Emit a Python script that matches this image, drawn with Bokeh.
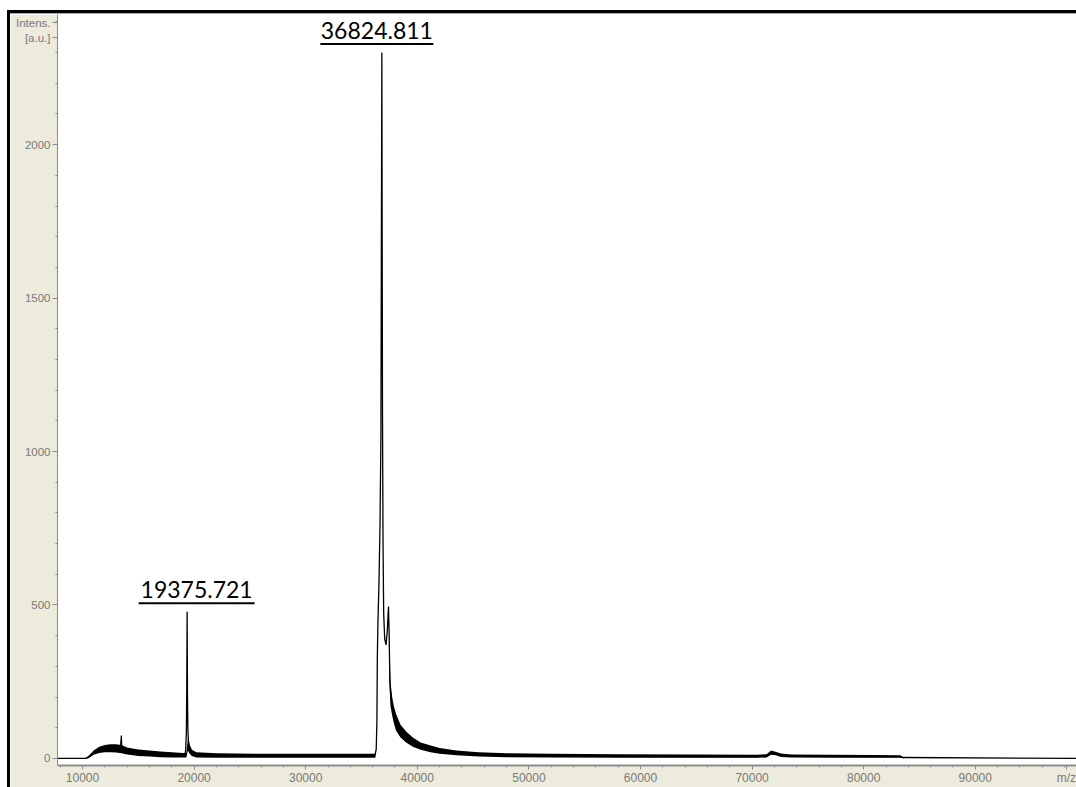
from bokeh.plotting import figure
from bokeh.models import Range1d, FixedTicker, Label, Spacer
from bokeh.layouts import row, column
from bokeh.embed import file_html
from bokeh.resources import INLINE

# MALDI-TOF spectrum: m/z against intensity (a.u.)
trace_mz = [7760, 10250, 10500, 10800, 11200, 11700, 12300, 12900, 13400, 13480,
            13520, 13600, 14000, 15000, 16000, 17000, 18000, 18800, 19150, 19250,
            19310, 19340, 19375.721, 19405, 19440, 19490, 19560, 19700, 19900, 20300,
            22000, 25000, 28000, 31000, 34000, 36200, 36320, 36380, 36420, 36470,
            36560, 36660, 36740, 36824.811, 36880, 36930, 36990, 37080, 37200, 37320,
            37419, 37480, 37540, 37620, 37750, 37900, 38100, 38500, 39000, 39600,
            40300, 41200, 42000, 43500, 45500, 48000, 52000, 58000, 65000, 70500,
            71300, 71700, 72100, 72600, 73500, 77000, 81000, 83300, 83600, 99070]
trace_int = [0, 0, 3, 12, 27, 32, 34, 33, 31, 75,
             30, 28, 24, 18, 15, 12, 10, 9, 10, 28,
             90, 215, 478, 215, 100, 58, 42, 28, 18, 12,
             9, 8, 8, 7, 7, 8, 30, 120, 330, 440,
             560, 760, 1050, 2300, 1150, 700, 470, 390, 370, 420,
             495, 400, 260, 200, 165, 140, 115, 88, 70, 50,
             38, 29, 23, 17, 12, 9, 8, 7, 6, 6,
             8, 20, 16, 10, 8, 7, 6, 6, 3, 0]

# baseline noise envelope below the main peak
noise1_mz = [10300, 10600, 11000, 11500, 12000, 12500, 13000, 13500, 14000, 15000,
             16000, 17000, 18000, 19000, 19300, 19450, 19600, 19800, 20200, 22000,
             26000, 30000, 34000, 36250]
noise1_lo = [0, 2, 12, 18, 20, 20, 19, 17, 13, 8,
             6, 4, 3, 3, 3, 25, 15, 8, 3, 2,
             2, 2, 2, 2]
noise1_hi = [2, 10, 26, 38, 44, 46, 46, 44, 36, 29,
             26, 23, 20, 18, 18, 65, 45, 28, 20, 17,
             15, 15, 15, 15]

# noise envelope on the tail of the main peak
noise2_mz = [37500, 37600, 37750, 37900, 38100, 38500, 39000, 39600, 40300, 41200,
             42000, 43500, 45500, 48000, 52000, 58000, 65000, 70500, 71300, 71700,
             72100, 72600, 73500, 77000, 81000, 83300, 83600]
noise2_lo = [250, 170, 140, 115, 90, 68, 52, 38, 28, 20,
             15, 10, 6, 4, 3, 2, 2, 2, 3, 12,
             10, 5, 3, 2, 2, 2, 0]
noise2_hi = [380, 250, 200, 170, 145, 110, 88, 68, 52, 42,
             34, 26, 20, 17, 15, 14, 13, 12, 14, 26,
             22, 16, 13, 12, 11, 10, 1]

peak_mz = [19375.721, 36824.811]
peak_int = [478, 2300]
peak_text = ["19375.721", "36824.811"]

x_ticks = [10000, 20000, 30000, 40000, 50000, 60000, 70000, 80000, 90000]
y_ticks = [0, 500, 1000, 1500, 2000]

# axis captions sit at the ends of the axes, in the tick-label rows
x_caption = {98170: "m/z"}
y_caption = {2397: "Intens.", 2349: "[a.u.]"}

X_START, X_END = 7760, 99070
Y_START, Y_END = -23, 2424
FRAME_W, FRAME_H = 1019, 752

BEIGE = "#ECEBDC"
AXIS_GRAY = "#8C8C8C"
LABEL_GRAY = "#7A7A7A"

p = figure(width=1066, height=773, output_backend="svg", toolbar_location=None,
           x_range=Range1d(X_START, X_END), y_range=Range1d(Y_START, Y_END),
           min_border_left=47, min_border_right=0, min_border_top=0, min_border_bottom=20)
p.background_fill_color = "white"
p.border_fill_color = BEIGE
p.outline_line_color = None
p.xgrid.visible = False
p.ygrid.visible = False

p.varea(x=noise1_mz, y1=noise1_lo, y2=noise1_hi, fill_color="black")
p.varea(x=noise2_mz, y1=noise2_lo, y2=noise2_hi, fill_color="black")
p.line(trace_mz, trace_int, line_color="black", line_width=1.3)

# axes
p.xaxis.ticker = FixedTicker(ticks=x_ticks + list(x_caption),
                             minor_ticks=list(range(8000, 99000, 2000)))
p.yaxis.ticker = FixedTicker(ticks=y_ticks + list(y_caption),
                             minor_ticks=list(range(0, 2500, 100)))
p.xaxis.major_label_overrides = x_caption
p.yaxis.major_label_overrides = y_caption
for ax in (p.xaxis[0], p.yaxis[0]):
    ax.axis_line_color = AXIS_GRAY
    ax.major_tick_line_color = AXIS_GRAY
    ax.minor_tick_line_color = AXIS_GRAY
    ax.major_tick_in = 0
    ax.minor_tick_in = 0
    ax.major_label_text_color = LABEL_GRAY
    ax.major_label_text_font = "Liberation Sans"
    ax.major_label_standoff = 2
p.xaxis.major_label_text_font_size = "12px"
p.yaxis.major_label_text_font_size = "11.5px"
p.xaxis.axis_line_width = 2
p.xaxis.major_tick_out = 4
p.xaxis.minor_tick_out = 2
p.xaxis.major_label_standoff = 1
p.yaxis.major_tick_out = 5
p.yaxis.minor_tick_out = 2

sx = FRAME_W / (X_END - X_START)
sy = FRAME_H / (Y_END - Y_START)

# peak annotations, underlined
label_dx = [9.5, -5]
label_half_w = [58, 56.5]
for mz, inten, txt, dx, hw in zip(peak_mz, peak_int, peak_text, label_dx, label_half_w):
    p.add_layout(Label(x=mz, y=inten, text=txt, text_align="center",
                       text_baseline="alphabetic", x_offset=dx, y_offset=22,
                       text_font="Lato", text_font_size="23px", text_color="black"))
    p.segment(x0=[mz + (dx - hw) / sx], x1=[mz + (dx + hw) / sx],
              y0=[inten + 8.5 / sy], y1=[inten + 8.5 / sy],
              line_color="black", line_width=2)

black_left = Spacer(width=3, height=777, styles={"background-color": "black"})
black_top = Spacer(width=1066, height=3, styles={"background-color": "black"})
gray_top = Spacer(width=1066, height=1, styles={"background-color": "#A8A8A8"})
page = row(Spacer(width=7, height=787),
           column(Spacer(width=1069, height=10),
                  row(black_left, column(black_top, gray_top, p))))

open("out.html", "w").write(file_html(page, INLINE))
